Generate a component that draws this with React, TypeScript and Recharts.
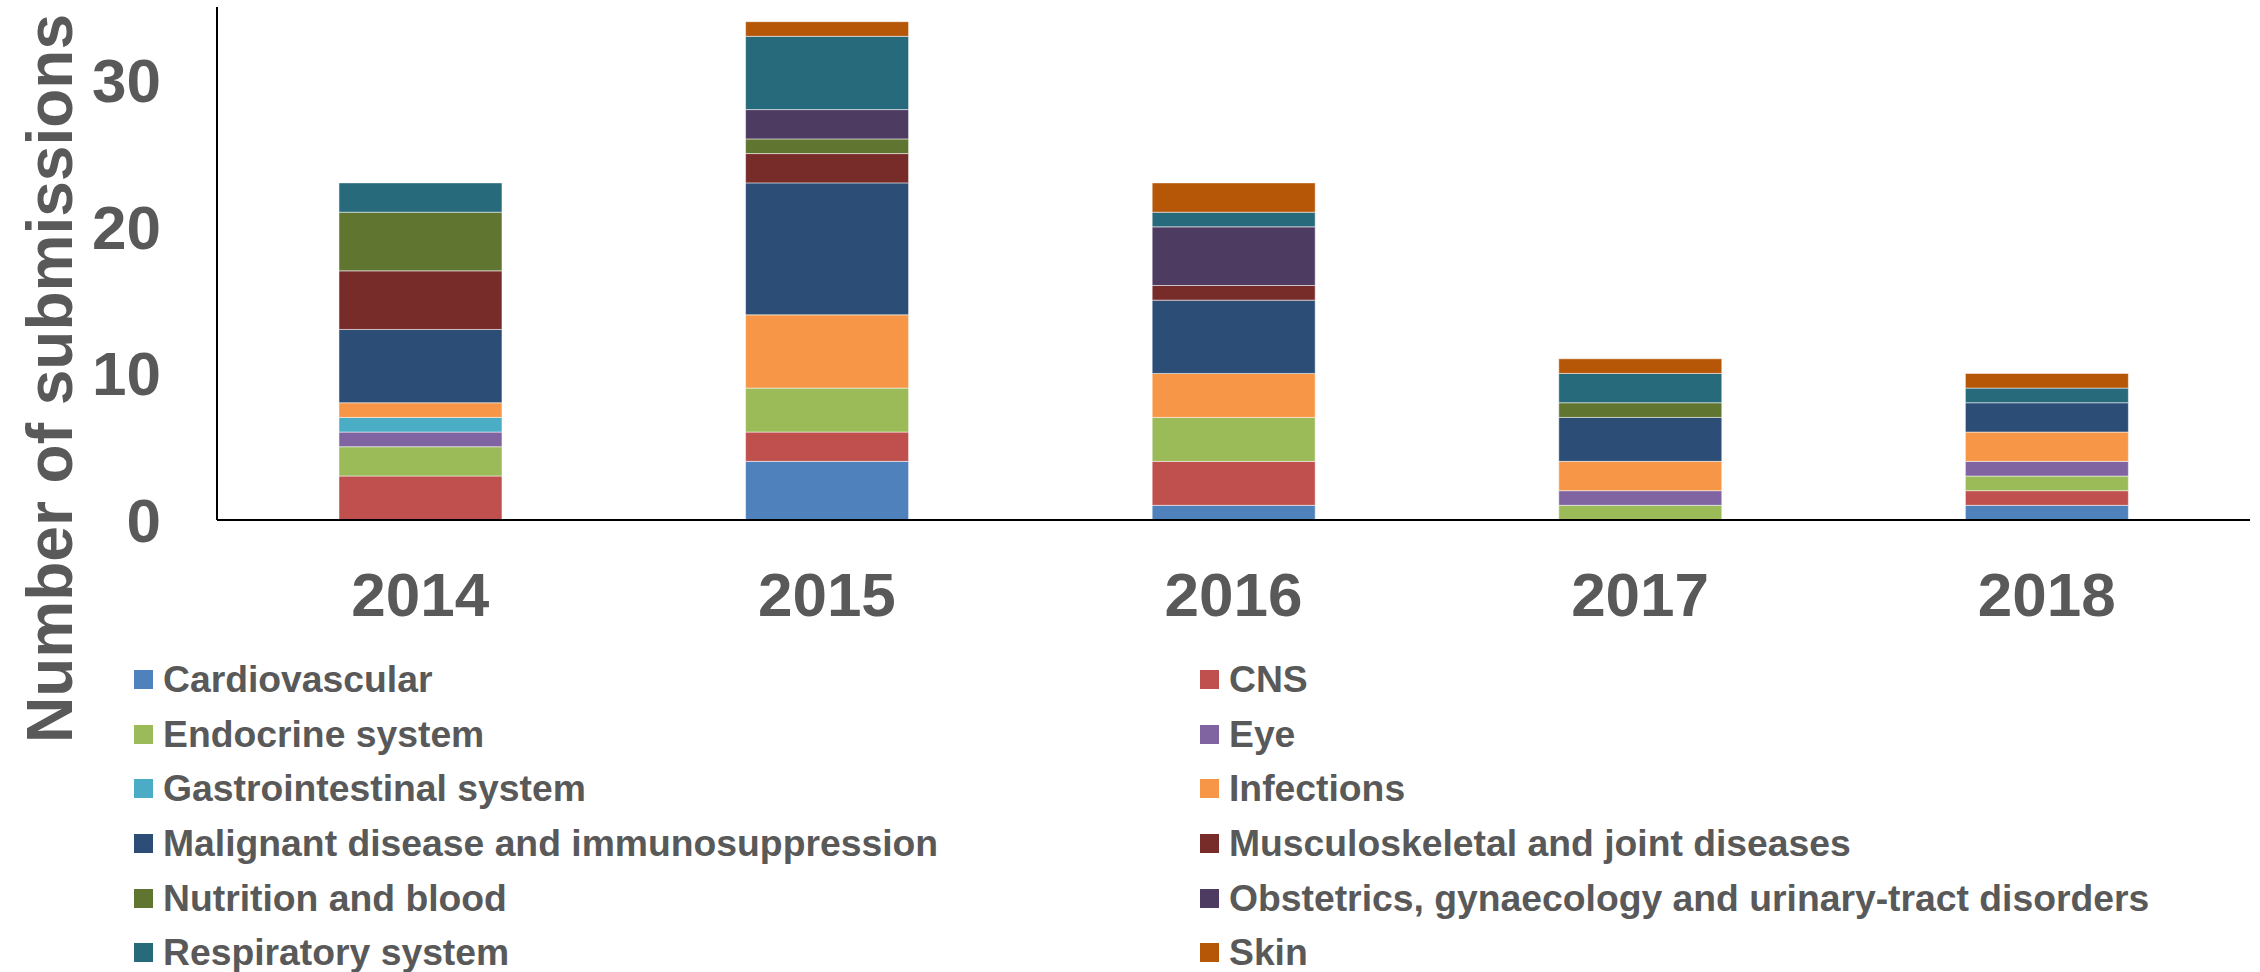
import React from 'react';
import { BarChart, Bar, XAxis, YAxis, Legend, Label } from 'recharts';

const years = ['2014', '2015', '2016', '2017', '2018'];
const cardiovascular = [0, 4, 1, 0, 1];
const cns = [3, 2, 3, 0, 1];
const endocrine = [2, 3, 3, 1, 1];
const eye = [1, 0, 0, 1, 1];
const gastrointestinal = [1, 0, 0, 0, 0];
const infections = [1, 5, 3, 2, 2];
const malignant = [5, 9, 5, 3, 2];
const musculoskeletal = [4, 2, 1, 0, 0];
const nutrition = [4, 1, 0, 1, 0];
const obstetrics = [0, 2, 4, 0, 0];
const respiratory = [2, 5, 1, 2, 1];
const skin = [0, 1, 2, 1, 1];
const yTicks = [0, 10, 20, 30];

const seriesNames = [
  'Cardiovascular',
  'CNS',
  'Endocrine system',
  'Eye',
  'Gastrointestinal system',
  'Infections',
  'Malignant disease and immunosuppression',
  'Musculoskeletal and joint diseases',
  'Nutrition and blood',
  'Obstetrics, gynaecology and urinary-tract disorders',
  'Respiratory system',
  'Skin',
];
const seriesValues = [
  cardiovascular, cns, endocrine, eye, gastrointestinal, infections,
  malignant, musculoskeletal, nutrition, obstetrics, respiratory, skin,
];
const seriesColors = [
  '#4F81BD', '#C0504D', '#9BBB59', '#8064A2', '#4BACC6', '#F79646',
  '#2C4D75', '#772C2A', '#5F7530', '#4D3B62', '#276A7C', '#B65708',
];

const data = years.map((year, i) => {
  const row: Record<string, string | number> = { year };
  seriesNames.forEach((name, s) => {
    row[name] = seriesValues[s][i];
  });
  return row;
});

const FONT = '"Liberation Sans", Arial, sans-serif';
const TEXT = '#595959';

const renderYLabel = (props: any) => {
  const vb = props.viewBox || { x: 0, y: 0, width: 0, height: 0 };
  const x = vb.x + 72;
  const y = vb.y + vb.height / 2 + 115;
  return (
    <text
      x={x}
      y={y}
      transform={`rotate(-90, ${x}, ${y})`}
      textAnchor="middle"
      fontSize={64}
      fontWeight={700}
      fill={TEXT}
      fontFamily={FONT}
    >
      Number of submissions
    </text>
  );
};

const renderLegend = () => (
  <div
    style={{
      display: 'grid',
      gridTemplateColumns: '1066px 1066px',
      gridAutoRows: '54.7px',
      fontFamily: FONT,
    }}
  >
    {seriesNames.map((name, i) => (
      <div key={name} style={{ display: 'flex', alignItems: 'center' }}>
        <span
          style={{
            display: 'inline-block',
            width: 19,
            height: 19,
            background: seriesColors[i],
            marginRight: 10,
            flexShrink: 0,
          }}
        />
        <span style={{ fontSize: 37.3, fontWeight: 700, color: TEXT, whiteSpace: 'nowrap' }}>{name}</span>
      </div>
    ))}
  </div>
);

export default function App() {
  return (
    <div style={{ position: 'absolute', left: 0, top: 0, width: 2260, height: 972, background: '#fff' }}>
      <BarChart
        width={2260}
        height={972}
        data={data}
        margin={{ top: 7, right: 10, left: 0, bottom: 352 }}
        barCategoryGap="30%"
      >
        <XAxis
          dataKey="year"
          height={100}
          tickSize={0}
          tickMargin={52}
          axisLine={{ stroke: '#000', strokeWidth: 2 }}
          tick={{ fontSize: 62, fontWeight: 700, fill: TEXT, fontFamily: FONT }}
        />
        <YAxis
          width={217}
          domain={[0, 35]}
          ticks={yTicks}
          interval={0}
          tickSize={0}
          tickMargin={56}
          axisLine={{ stroke: '#000', strokeWidth: 2 }}
          tick={{ fontSize: 62, fontWeight: 700, fill: TEXT, fontFamily: FONT }}
        >
          <Label content={renderYLabel} />
        </YAxis>
        <Legend
          layout="horizontal"
          verticalAlign="middle"
          align="center"
          content={renderLegend}
          wrapperStyle={{ left: 134, top: 652, width: 2132, height: 330 }}
        />
        {seriesNames.map((name, i) => (
          <Bar
            key={name}
            dataKey={name}
            stackId="a"
            fill={seriesColors[i]}
            stroke="#ffffff"
            strokeOpacity={0.5}
            strokeWidth={1}
            isAnimationActive={false}
          />
        ))}
      </BarChart>
    </div>
  );
}
